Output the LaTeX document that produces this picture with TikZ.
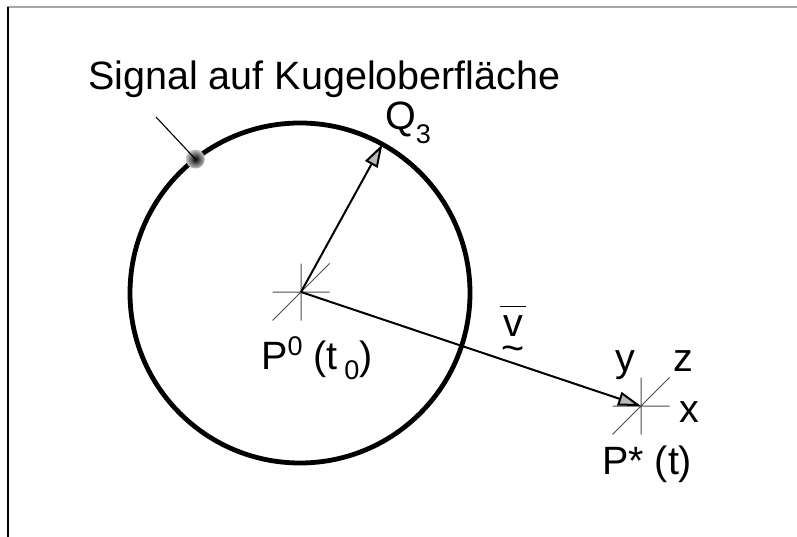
\documentclass[tikz,border=0pt]{standalone}
\usepackage{fontspec}
\setmainfont{Liberation Sans}
\usetikzlibrary{arrows.meta, positioning, shapes.geometric}

\begin{document}
\begin{tikzpicture}[
    x=1pt, y=-1pt,
    schrift/.style={inner sep=0pt, font=\fontsize{39.5}{46}\selectfont},
    kreuz/.style={rectangle, minimum size=57pt, inner sep=0pt, outer sep=0pt},
    kreuzlinie/.style={line width=1pt, black!70},
    zeiger/.style={-{Triangle[length=23pt, width=14pt, fill=gray!55]}, line width=2pt},
    kugelrand/.style={circle, draw, line width=4.8pt, minimum size=340pt, inner sep=0pt, outer sep=0pt},
    punkt/.style={circle, minimum size=19pt, inner sep=0pt, shading=radial, inner color=black, outer color=gray!45}
]
\useasboundingbox (0,0) rectangle (797,537);

% Rahmen
\draw[line width=2pt, gray!70] (7,7) -- (797,7);
\draw[line width=1.2pt] (8,7) -- (8,537);

% Kugel und Punkte
\node[kugelrand] (kugel) at (300,293) {};
\node[kreuz] (p0) at (301,292) {};
\node[kreuz] (ps) at (641,406) {};
\draw[kreuzlinie] (p0.west) -- (p0.east) (p0.north) -- (p0.south) (p0.south west) -- (p0.north east);
\draw[kreuzlinie] (ps.west) -- (ps.east) (ps.north) -- (ps.south) (ps.south west) -- (ps.north east);

% Signal
\node[punkt] (signal) at (kugel.128) {};
\node[schrift, anchor=base west] (signaltext) at (88,90) {Signal auf Kugeloberfläche};
\coordinate (anker) at (156,117);
\draw[line width=1.1pt] (anker) -- (signal.center);

% Beschriftungen
\node[schrift, anchor=base west] (q3) at (385,130) {Q\raisebox{-14pt}{\fontsize{27}{30}\selectfont 3}};
\node[schrift, anchor=base west] (p0text) at (261,369) {P\raisebox{14pt}{\fontsize{27}{30}\selectfont 0} (t\,\raisebox{-10pt}{\fontsize{27}{30}\selectfont 0})};
\node[schrift, anchor=base west] (pstext) at (602,474) {P* (t)};
\node[schrift, anchor=base] (ytext) at (625,371) {y};
\node[schrift, anchor=base] (ztext) at (683,371) {z};
\node[schrift, anchor=base] (xtext) at (689,422) {x};
\node[schrift, anchor=base] (vtext) at (513,336) {$\overline{\hbox{\kern3pt\raisebox{0pt}[28pt][0pt]{v}\kern3pt}}$\llap{\raisebox{-25pt}[0pt][0pt]{\hbox to 26pt{\hss\textasciitilde\hss}}}};

% Vektoren
\draw[zeiger] (p0.center) -- (kugel.61);
\draw[zeiger] (p0.center) -- (ps.center);

\end{tikzpicture}
\end{document}
